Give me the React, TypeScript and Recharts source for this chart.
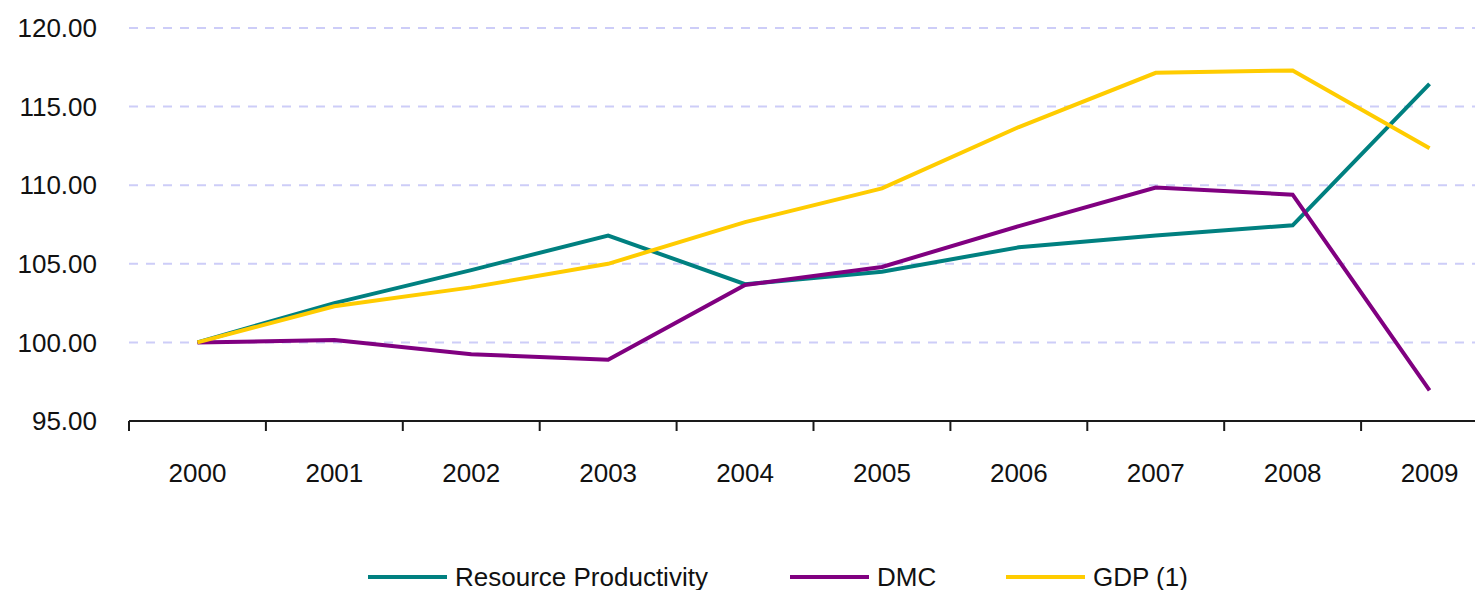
import React from 'react';
import { LineChart, Line, XAxis, YAxis, CartesianGrid } from 'recharts';

const years = ['2000', '2001', '2002', '2003', '2004', '2005', '2006', '2007', '2008', '2009'];
const resourceProductivity = [100, 102.5, 104.6, 106.8, 103.7, 104.5, 106.05, 106.8, 107.45, 116.45];
const dmc = [100, 100.15, 99.25, 98.9, 103.65, 104.8, 107.4, 109.85, 109.4, 96.95];
const gdp = [100, 102.3, 103.5, 105.0, 107.65, 109.8, 113.7, 117.15, 117.3, 112.35];
const yTicks = [95, 100, 105, 110, 115, 120];

const series = [
  { key: 'rp', name: 'Resource Productivity', color: '#008080', values: resourceProductivity },
  { key: 'dmc', name: 'DMC', color: '#800080', values: dmc },
  { key: 'gdp', name: 'GDP (1)', color: '#FFCC00', values: gdp },
];

const chartData = years.map((year, i) => {
  const row: Record<string, string | number> = { year };
  series.forEach(s => {
    row[s.key] = s.values[i];
  });
  return row;
});

const CHART_W = 1520;
const CHART_H = 590;
const MARGIN = { top: 28, right: 22, left: 0, bottom: 109 };
const Y_AXIS_W = 129;
const HALF_BAND = (CHART_W - MARGIN.right - MARGIN.left - Y_AXIS_W) / years.length / 2;

const FONT = '"Liberation Sans", Arial, sans-serif';
const TEXT_COLOR = '#111';

// legend item left edges
const legendLeft = [368, 790, 1006];

// year label centred in its band, tick mark on the band's left boundary
const YearTick = (props: any) => {
  const { x, y, payload } = props;
  return (
    <g>
      <line x1={x - HALF_BAND} x2={x - HALF_BAND} y1={y} y2={y + 10} stroke="#1a1a1a" strokeWidth={2} />
      <text x={x} y={y + 61} textAnchor="middle" fontSize={26} fontFamily={FONT} fill={TEXT_COLOR}>
        {payload.value}
      </text>
    </g>
  );
};

export default function App() {
  return (
    <div
      style={{
        position: 'fixed',
        left: 0,
        top: 0,
        width: 1475,
        height: 590,
        overflow: 'hidden',
        background: '#fff',
      }}
    >
      <LineChart width={CHART_W} height={CHART_H} data={chartData} margin={MARGIN}>
        <CartesianGrid vertical={false} stroke="#cdcdf8" strokeWidth={2} strokeDasharray="9 8" />
        <XAxis
          dataKey="year"
          interval={0}
          padding={{ left: HALF_BAND, right: HALF_BAND }}
          tickLine={false}
          tickSize={0}
          tickMargin={0}
          height={60}
          axisLine={{ stroke: '#1a1a1a', strokeWidth: 2 }}
          tick={YearTick}
        />
        <YAxis
          domain={[95, 120]}
          ticks={yTicks}
          width={Y_AXIS_W}
          axisLine={false}
          tickLine={false}
          tickSize={0}
          tickMargin={32}
          tickFormatter={(v: number) => v.toFixed(2)}
          tick={{ fontSize: 26, fontFamily: FONT, fill: TEXT_COLOR }}
        />
        {series.map(s => (
          <Line
            key={s.key}
            type="linear"
            dataKey={s.key}
            name={s.name}
            stroke={s.color}
            strokeWidth={4}
            dot={false}
            activeDot={false}
            isAnimationActive={false}
          />
        ))}
      </LineChart>
      {series.map((s, i) => (
        <div
          key={s.key}
          style={{
            position: 'absolute',
            left: legendLeft[i],
            top: 562,
            height: 30,
            display: 'flex',
            alignItems: 'center',
            fontFamily: FONT,
            fontSize: 26,
            color: TEXT_COLOR,
            whiteSpace: 'nowrap',
          }}
        >
          <div style={{ width: 79, height: 4, background: s.color, marginRight: 8 }} />
          <span>{s.name}</span>
        </div>
      ))}
    </div>
  );
}
